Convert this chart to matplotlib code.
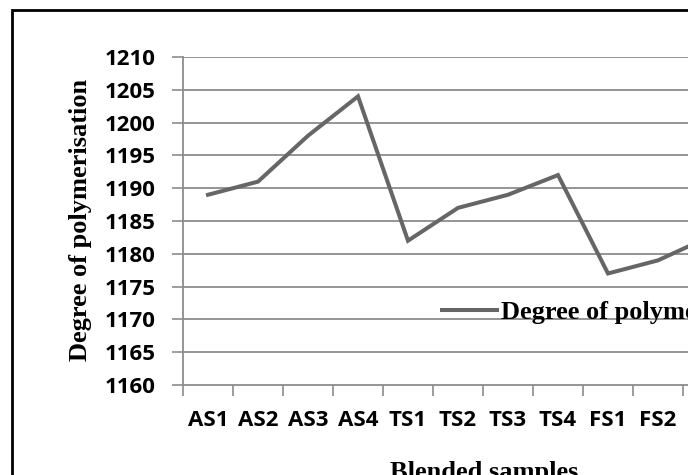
import matplotlib
matplotlib.use("Agg")
import matplotlib.pyplot as plt
from matplotlib.lines import Line2D
from matplotlib.patches import Rectangle
import numpy as np

# data (FS3 only partly visible, FS4 outside the crop)
categories = ["AS1", "AS2", "AS3", "AS4", "TS1", "TS2", "TS3", "TS4",
              "FS1", "FS2", "FS3", "FS4"]
dp_values = [1189, 1191, 1198, 1204, 1182, 1187, 1189, 1192, 1177, 1179, 1182.5]
y_ticks = [1160, 1165, 1170, 1175, 1180, 1185, 1190, 1195, 1200, 1205, 1210]

W, H = 688, 475
LINE_COL = "#666666"
GRID_COL = "#8c8c8c"
SERIF = "Liberation Serif"
SANS = "Open Sans"

fig = plt.figure(figsize=(W / 100, H / 100), dpi=100)
# plot area runs past the right edge of the crop
ax = fig.add_axes([183 / W, (H - 385) / H, 600 / W, (385 - 57) / H])

x = np.arange(len(dp_values))
ax.plot(x, dp_values, color=LINE_COL, lw=2.9, solid_joinstyle="miter", clip_on=False)

ax.set_xlim(-0.5, len(categories) - 0.5)
ax.set_ylim(y_ticks[0], y_ticks[-1])
ax.set_yticks(y_ticks)
ax.set_yticklabels([str(v) for v in y_ticks], fontfamily=SANS,
                   fontweight="bold", fontsize=16)
ax.set_xticks(np.arange(len(categories)))
ax.set_xticklabels(categories, fontfamily=SANS, fontweight="bold", fontsize=16)
ax.set_xticks(np.arange(len(categories) + 1) - 0.5, minor=True)

ax.tick_params(axis="x", which="major", length=0, pad=18)
ax.tick_params(axis="x", which="minor", length=8, width=1.2, color=GRID_COL)
ax.tick_params(axis="y", length=8, width=1.2, color=GRID_COL, pad=12)

for v in y_ticks[1:]:
    ax.axhline(v, color=GRID_COL, lw=1.3, zorder=0)
for s in ["top", "right"]:
    ax.spines[s].set_visible(False)
for s in ["left", "bottom"]:
    ax.spines[s].set_color(GRID_COL)
    ax.spines[s].set_linewidth(1.3)

fig.text(81 / W, 1 - 220 / H, "Degree of polymerisation", rotation=90,
         ha="center", va="center", fontfamily=SERIF, fontweight="bold",
         fontsize=19)
fig.text(484 / W, 1 - 479 / H, "Blended samples", ha="center", va="baseline",
         fontfamily=SERIF, fontweight="bold", fontsize=19)

handle = Line2D([], [], color=LINE_COL, lw=2.9)
ax.legend([handle], ["Degree of polymerisation"], loc="center left",
          bbox_to_anchor=(442 / W, 1 - 312 / H), bbox_transform=fig.transFigure,
          frameon=False, borderpad=0, borderaxespad=0, handlelength=2.1,
          handletextpad=0.15, prop={"family": SERIF, "weight": "bold", "size": 19})

# outer chart border, only left and top edges fall inside the crop
fig.patches.append(Rectangle((12 / W, -0.5), 2, 1.5 - 10 / H, fill=False,
                             lw=2, edgecolor="black", transform=fig.transFigure))

fig.savefig("out.png", dpi=100)
